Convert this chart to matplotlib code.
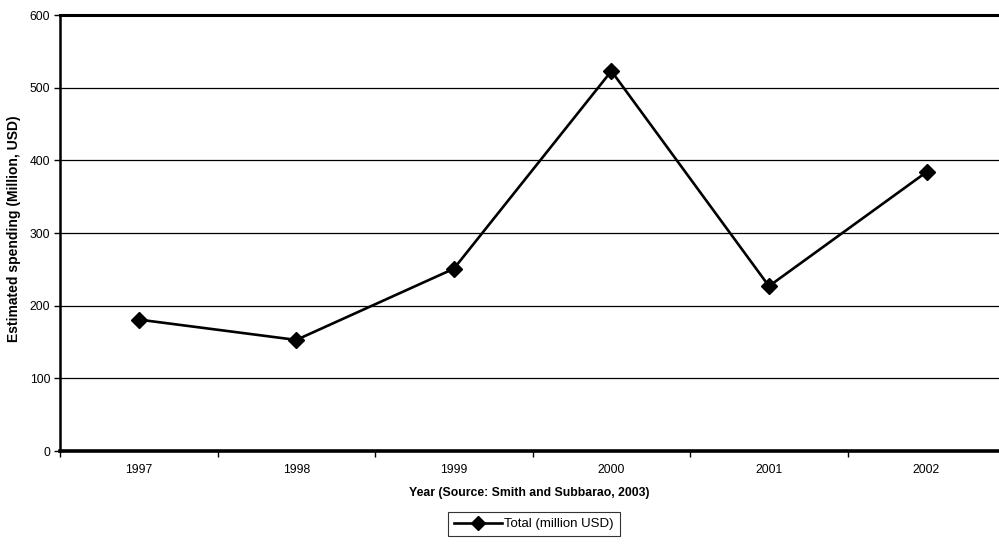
import matplotlib
matplotlib.use("Agg")
import matplotlib.pyplot as plt
from matplotlib.ticker import FixedLocator, NullFormatter

plt.rcParams["font.family"] = ["Liberation Sans", "DejaVu Sans"]

years = ["1997", "1998", "1999", "2000", "2001", "2002"]
spending = [181, 153, 251, 523, 227, 384]
y_ticks = [0, 100, 200, 300, 400, 500, 600]
series_label = "Total (million USD)"

fig = plt.figure(figsize=(9.99, 5.59), dpi=100)
ax = fig.add_axes([0.060, 0.193, 0.940, 0.780])

x = list(range(len(years)))
ax.plot(x, spending, color="black", linewidth=1.9, marker="D", markersize=8.5,
        markerfacecolor="black", markeredgecolor="black", label=series_label,
        zorder=3, clip_on=False)

ax.set_xlim(-0.5, 5.46)
ax.set_ylim(0, 600)

ax.set_yticks(y_ticks)
ax.yaxis.grid(True, color="black", linewidth=0.9)
ax.set_axisbelow(True)

ax.set_xticks(x)
ax.set_xticklabels(years)
ax.tick_params(axis="x", which="major", length=0, pad=9, labelsize=8.7)
ax.xaxis.set_minor_locator(FixedLocator([i + 0.5 for i in range(-1, 6)]))
ax.xaxis.set_minor_formatter(NullFormatter())
ax.tick_params(axis="x", which="minor", length=4, width=1, direction="out")
ax.tick_params(axis="y", length=4, width=1, direction="out", labelsize=8.7, pad=3)

ax.spines["right"].set_visible(False)
ax.spines["bottom"].set_linewidth(2.6)
ax.spines["top"].set_linewidth(2.2)
ax.spines["left"].set_linewidth(1.8)

ax.set_xlabel("Year (Source: Smith and Subbarao, 2003)", fontsize=8.8,
              fontweight="bold", labelpad=8)
ax.set_ylabel("Estimated spending (Million, USD)", fontsize=10,
              fontweight="bold")
ax.yaxis.set_label_coords(-0.041, 0.511)

leg = fig.legend(loc="center", bbox_to_anchor=(534 / 999, 1 - 524 / 559),
                 frameon=True, fancybox=False, fontsize=9.5, handlelength=3.6,
                 handletextpad=0.2, borderpad=0.45, edgecolor="black")
leg.get_frame().set_linewidth(0.8)
for h in leg.legend_handles:
    h.set_markersize(7)

fig.savefig("out.png", dpi=100)
